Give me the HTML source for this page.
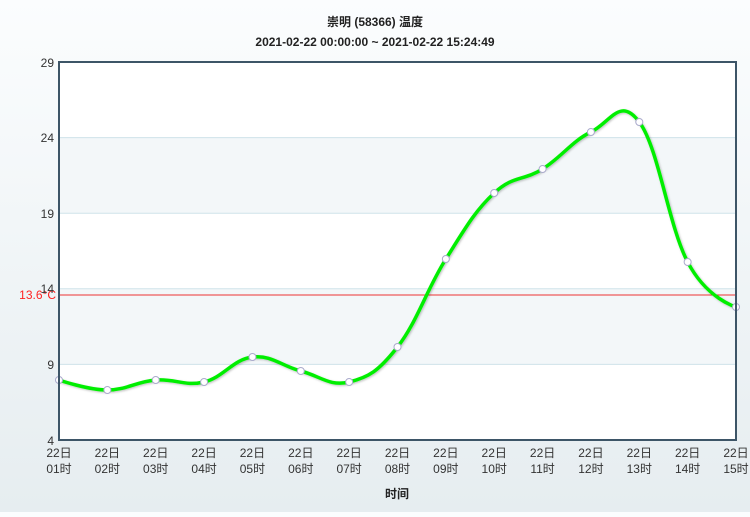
<!DOCTYPE html>
<html><head><meta charset="utf-8"><style>
html,body{margin:0;padding:0;}
body{width:750px;height:512px;overflow:hidden;background:linear-gradient(#fbfdfe,#e6edf0);font-family:"Liberation Sans","Noto Sans CJK SC",sans-serif;}
svg text{font-family:"Liberation Sans","Noto Sans CJK SC",sans-serif;}
</style></head><body>
<svg id="s" width="750" height="512" xmlns="http://www.w3.org/2000/svg">
<defs><filter id="sh" x="-5%" y="-5%" width="110%" height="120%"><feDropShadow dx="1" dy="1" stdDeviation="1" flood-color="#000" flood-opacity="0.25"/></filter></defs>
<text x="375" y="26" text-anchor="middle" font-size="12" font-weight="bold" fill="#222">崇明 (58366) 温度</text>
<text x="375" y="46" text-anchor="middle" font-size="12" font-weight="bold" fill="#222">2021-02-22 00:00:00 ~ 2021-02-22 15:24:49</text>
<rect x="59" y="62" width="677" height="378" fill="#fff"/>
<rect x="59" y="137.6" width="677" height="75.6" fill="#f3f7f9"/>
<rect x="59" y="288.8" width="677" height="75.6" fill="#f3f7f9"/>
<g stroke="#cfe3ea" stroke-width="1">
<line x1="59" x2="736" y1="137.6" y2="137.6"/><line x1="59" x2="736" y1="213.2" y2="213.2"/>
<line x1="59" x2="736" y1="288.8" y2="288.8"/><line x1="59" x2="736" y1="364.4" y2="364.4"/>
</g>
<line x1="59" x2="736" y1="295" y2="295" stroke="#e33" stroke-width="1"/>
<text x="56" y="299" text-anchor="end" font-size="12" fill="#f22">13.6°C</text>
<g font-size="12" fill="#333" text-anchor="end">
<text x="54" y="67">29</text><text x="54" y="142">24</text><text x="54" y="218">19</text>
<text x="54" y="293">14</text><text x="54" y="369">9</text><text x="54" y="445">4</text>
</g>
<path id="ln" d="" fill="none" stroke="#00ee00" stroke-width="3.5" filter="url(#sh)"/>
<g id="pts"></g>
<rect x="59" y="62" width="677" height="378" fill="none" stroke="#3d5567" stroke-width="2"/>
<g id="xl" font-size="12" fill="#333" text-anchor="middle"></g>
<text x="397" y="498" text-anchor="middle" font-size="12" font-weight="bold" fill="#222">时间</text>
</svg>
<script>
var ys=[380,390,380,382,357,371,382,347,259,193,169,132,122,262,307];
var P=ys.map(function(y,i){return [59+i*677/14,y];});
var d="M"+P[0][0]+" "+P[0][1];var prc=P[0];
for(var i=1;i<P.length;i++){var x=P[i][0],y=P[i][1],lc,rc;
 if(i<P.length-1){var px=P[i-1][0],py=P[i-1][1],nx=P[i+1][0],ny=P[i+1][1];
  var lx=(1.5*x+px)/2.5,ly=(1.5*y+py)/2.5,rx=(1.5*x+nx)/2.5,ry=(1.5*y+ny)/2.5;
  var c=((ry-ly)*(rx-x))/(rx-lx)+y-ry;ly+=c;ry+=c;
  lc=[lx,ly];rc=[rx,ry];}else{lc=[x,y];rc=[x,y];}
 d+=" C"+prc[0]+" "+prc[1]+" "+lc[0]+" "+lc[1]+" "+x+" "+y;prc=rc;}
document.getElementById("ln").setAttribute("d",d);
var g=document.getElementById("pts"),xl=document.getElementById("xl"),h="",t="";
P.forEach(function(p,i){h+='<circle cx="'+p[0]+'" cy="'+p[1]+'" r="3.5" fill="#fff" stroke="#aac" stroke-width="1"/>';
 var hh=(i+1<10?"0":"")+(i+1);
 t+='<text x="'+p[0]+'" y="457">22日</text><text x="'+p[0]+'" y="473">'+hh+'时</text>';});
g.innerHTML=h;xl.innerHTML=t;
</script>
</body></html>
